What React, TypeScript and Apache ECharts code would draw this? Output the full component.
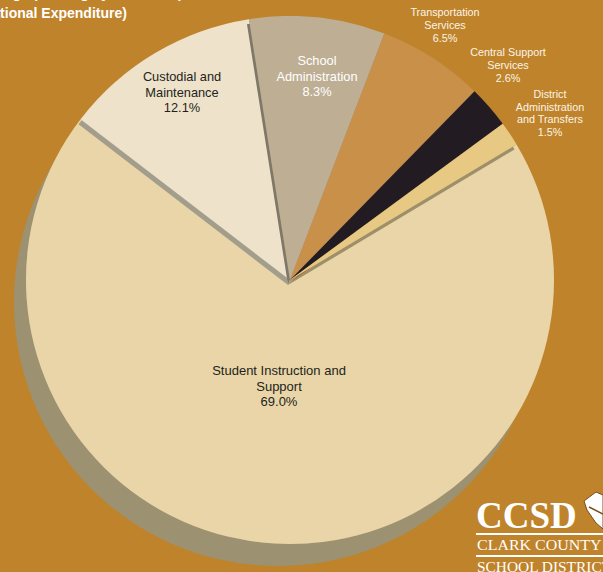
import React, { useEffect, useRef } from "react";
import * as echarts from "echarts";

const categories = [
  "Student Instruction and Support",
  "Custodial and Maintenance",
  "School Administration",
  "Transportation Services",
  "Central Support Services",
  "District Administration and Transfers",
];
const values = [69.0, 12.1, 8.3, 6.5, 2.6, 1.5];
const labelLines = [
  ["Student Instruction and", "Support", "69.0%"],
  ["Custodial and", "Maintenance", "12.1%"],
  ["School", "Administration", "8.3%"],
  ["Transportation", "Services", "6.5%"],
  ["Central Support", "Services", "2.6%"],
  ["District", "Administration", "and Transfers", "1.5%"],
];
const titleLines = ["Operating Spending by Function (Percent of Total", "(Operational Expenditure)"];
const logoLines = ["CCSD", "CLARK COUNTY", "SCHOOL DISTRICT"];

const sliceColors = ["#E9D5A7", "#EEE2CA", "#BEAF94", "#C8904A", "#231F20", "#E8C984"];
const edgeColors = ["#9C9170", "#A39D8B", "#7F7767", "#A69D88", "#9A7440", "#9C8F6B"];
const labelPos = [
  [279, 386],
  [182, 92],
  [317, 76],
  [445, 25],
  [508, 65],
  [550, 113],
];
const labelColors = ["#231F20", "#231F20", "#FFFFFF", "#FBF4E6", "#FBF4E6", "#FBF4E6"];
const labelSizes = [13, 12.8, 12.8, 10.8, 10.8, 10.8];
const labelLineHeights = [15.5, 15.5, 15.5, 12.8, 12.8, 12.8];

export default function App() {
  const ref = useRef<HTMLDivElement>(null);
  useEffect(() => {
    document.body.style.margin = "0";
    const chart = echarts.init(ref.current!, null, { renderer: "svg" });
    const font = "'Liberation Sans', Arial, sans-serif";
    const serif = "'Liberation Serif', 'Times New Roman', serif";
    chart.setOption({
      animation: false,
      backgroundColor: "#BF832B",
      series: [
        {
          type: "pie",
          center: [290, 280],
          radius: [0, 264],
          startAngle: 30.9,
          clockwise: true,
          silent: true,
          avoidLabelOverlap: false,
          emphasis: { disabled: true },
          labelLine: { show: false },
          label: {
            show: true,
            position: "inside",
            fontFamily: font,
            align: "center",
            formatter: (p: any) => labelLines[p.dataIndex].join("\n"),
          },
          labelLayout: (p: any) => ({
            x: labelPos[p.dataIndex][0],
            y: labelPos[p.dataIndex][1],
            align: "center",
            verticalAlign: "middle",
          }),
          data: categories.map((name, i) => ({
            name,
            value: values[i],
            itemStyle: {
              color: sliceColors[i],
              borderWidth: 0,
              shadowBlur: 0,
              shadowColor: edgeColors[i],
              shadowOffsetX: i === 0 ? -12 : -2,
              shadowOffsetY: i === 0 ? 22 : 5,
            },
            label: {
              color: labelColors[i],
              fontSize: labelSizes[i],
              lineHeight: labelLineHeights[i],
            },
          })),
        },
      ],
      graphic: [
        {
          type: "text",
          x: -45,
          y: -7.5,
          style: {
            text: titleLines[0],
            fill: "#FFFFFF",
            font: `bold 14px ${font}`,
            verticalAlign: "middle",
          },
        },
        {
          type: "text",
          x: -45,
          y: 12.5,
          style: {
            text: titleLines[1],
            fill: "#FFFFFF",
            font: `bold 14px ${font}`,
            verticalAlign: "middle",
          },
        },
        {
          type: "text",
          x: 476,
          y: 515,
          style: {
            text: logoLines[0],
            fill: "#FFFFFF",
            font: `bold 37px ${serif}`,
            verticalAlign: "middle",
            shadowColor: "rgba(70,35,0,0.55)",
            shadowBlur: 6,
          },
        },
        {
          type: "polygon",
          shape: {
            points: [
              [584, 501],
              [596, 492],
              [603, 495],
              [603, 529],
              [596, 523],
              [587, 510],
            ],
          },
          style: { fill: "#FFFFFF", stroke: "#7A4E18", lineWidth: 1 },
        },
        {
          type: "polyline",
          shape: { points: [[589, 507], [603, 514]] },
          style: { stroke: "#7A4E18", lineWidth: 1.5 },
        },
        { type: "rect", shape: { x: 476, y: 533, width: 127, height: 2 }, style: { fill: "#FFFFFF" } },
        { type: "rect", shape: { x: 476, y: 555, width: 127, height: 2 }, style: { fill: "#FFFFFF" } },
        {
          type: "text",
          x: 477,
          y: 545,
          scaleX: 1.14,
          style: {
            text: logoLines[1],
            fill: "#FFFFFF",
            font: `14px ${serif}`,
            verticalAlign: "middle",
          },
        },
        {
          type: "text",
          x: 477,
          y: 567,
          scaleX: 1.1,
          style: {
            text: logoLines[2],
            fill: "#FFFFFF",
            font: `14px ${serif}`,
            verticalAlign: "middle",
          },
        },
      ],
    });
    return () => chart.dispose();
  }, []);
  return <div ref={ref} style={{ width: 603, height: 572 }} />;
}
